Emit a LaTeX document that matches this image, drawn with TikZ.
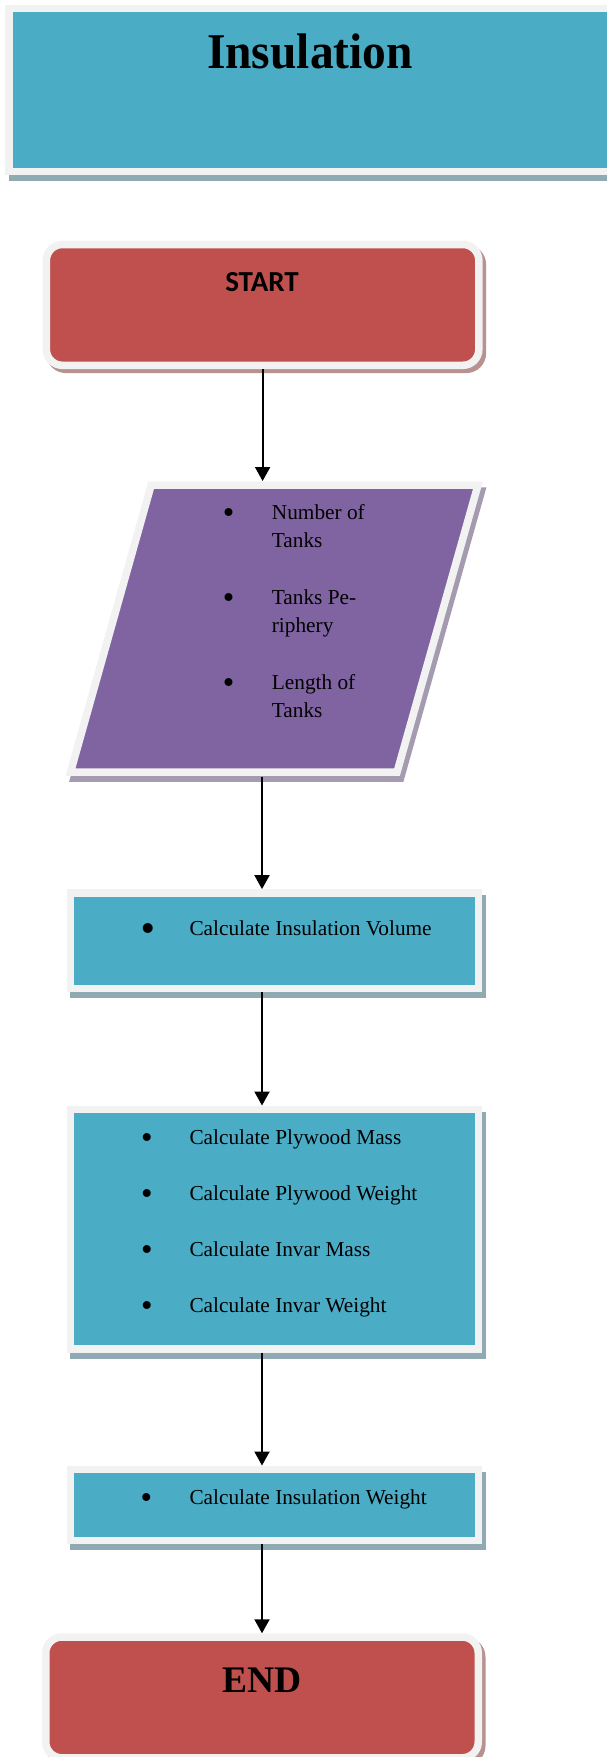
\documentclass[tikz,border=0pt]{standalone}
\usepackage{fontspec}
\setmainfont{Liberation Serif}
\newfontfamily\headfont[FakeStretch=0.95]{Liberation Serif}
\newfontfamily\calfont{Carlito}
\definecolor{cyanbox}{RGB}{75,172,198}
\definecolor{redbox}{RGB}{192,80,77}
\definecolor{purplebox}{RGB}{128,100,162}
\definecolor{rim}{RGB}{242,242,242}
\definecolor{cyanshade}{RGB}{143,170,178}
\definecolor{redshade}{RGB}{184,145,145}
\definecolor{purpleshade}{RGB}{164,155,176}
\usetikzlibrary{arrows.meta}
\usetikzlibrary{shadows}

\newcommand{\flowtext}{\fontsize{21.3pt}{28pt}\selectfont}
% round bullet: #1 diameter, #2 height of its centre above the baseline
\newcommand{\blt}[2][8]{\setlength{\unitlength}{1pt}%
    \begin{picture}(0,0)\put(3.8,#2){\circle*{#1}}\end{picture}}
% bullet column + text column
\newcommand{\itemrows}[2]{\begin{tabular}[t]{@{}p{#1}@{}l@{}}#2\end{tabular}}

\tikzset{
    framed/.style={draw=rim, line width=7.5pt, inner sep=0pt},
    cyanrect/.style={framed, rectangle, fill=cyanbox,
        drop shadow={shadow xshift=3.5pt, shadow yshift=-6pt, opacity=1,
            fill=cyanshade, draw=cyanshade, line width=7.5pt}},
    terminal/.style={framed, rectangle, rounded corners=16pt, fill=redbox,
        minimum width=432.5pt, minimum height=120.8pt,
        drop shadow={shadow xshift=3.5pt, shadow yshift=-4pt, opacity=1,
            fill=redshade, draw=redshade, line width=7.5pt}},
    flow/.style={line width=2pt, -{Triangle[width=15pt,length=14pt]}},
    itemlist/.style={anchor=base west, inner sep=0pt, font=\flowtext},
}

\begin{document}
\begin{tikzpicture}[x=1pt, y=-1pt]
    \useasboundingbox (0,0) rectangle (607,1757);

    % heading
    \node[cyanrect, minimum width=631.2pt, minimum height=163.3pt] (head) at (324.4,89.9) {};
    \node[anchor=base, font=\fontsize{50pt}{50pt}\headfont\bfseries] (title) at (310,68.3) {Insulation};

    % start
    \node[terminal] (start) at (262.6,304.9) {};
    \node[anchor=base, font=\fontsize{29pt}{29pt}\calfont\bfseries] (starttxt) at (262,291.7) {START};

    % input data
    \coordinate (p1) at (151.2,485);
    \coordinate (p2) at (478,485);
    \coordinate (p3) at (397,772.2);
    \coordinate (p4) at (70.5,772.2);
    \draw[framed, fill=purplebox, drop shadow={shadow xshift=3.5pt, shadow yshift=-6pt, opacity=1,
        fill=purpleshade, draw=purpleshade, line width=7.5pt}] (p1) -- (p2) -- (p3) -- (p4) -- cycle;
    \coordinate (intop) at (262,481);
    \coordinate (inbot) at (262,776.7);
    \node[itemlist] (inputs) at (224.5,519.3) {\itemrows{47.2pt}{%
        \blt{6.6} & Number of\\ & Tanks\\[29pt]
        \blt{6.6} & Tanks Pe-\\ & riphery\\[29pt]
        \blt{6.6} & Length of\\ & Tanks}};

    % steps
    \node[cyanrect, minimum width=408pt, minimum height=95.5pt] (vol) at (274.3,940.6) {};
    \node[itemlist] (voltxt) at (143.9,935.7) {\itemrows{45.4pt}{%
        \blt[10]{7.4} & Calculate Insulation Volume}};

    \node[cyanrect, minimum width=408pt, minimum height=239.5pt] (mass) at (274.3,1229) {};
    \node[itemlist] (masstxt) at (142.9,1144) {\itemrows{46.4pt}{%
        \blt{6.4} & Calculate Plywood Mass\\[28pt]
        \blt{6.4} & Calculate Plywood Weight\\[28pt]
        \blt{6.4} & Calculate Invar Mass\\[28pt]
        \blt{6.4} & Calculate Invar Weight}};

    \node[cyanrect, minimum width=408pt, minimum height=71.3pt] (weight) at (274.3,1504.9) {};
    \node[itemlist] (weighttxt) at (142.4,1504) {\itemrows{46.9pt}{%
        \blt{6.4} & Calculate Insulation Weight}};

    % end
    \node[terminal] (stop) at (262,1697.4) {};
    \node[anchor=base, font=\fontsize{37.5pt}{37.5pt}\bfseries] (stoptxt) at (262,1692.3) {END};

    \draw[flow] (start.south) -- (start.south |- intop);
    \draw[flow] (inbot) -- (inbot |- vol.north);
    \draw[flow] (inbot |- vol.south) -- (inbot |- mass.north);
    \draw[flow] (inbot |- mass.south) -- (inbot |- weight.north);
    \draw[flow] (inbot |- weight.south) -- (inbot |- stop.north);
\end{tikzpicture}
\end{document}
